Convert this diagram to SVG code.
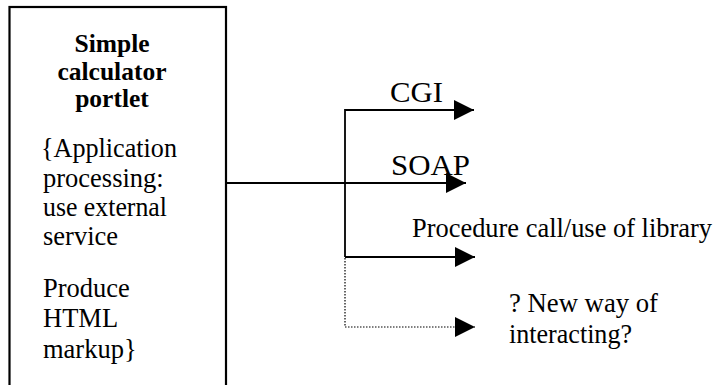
<svg xmlns="http://www.w3.org/2000/svg" width="717" height="385" viewBox="0 0 717 385">
<defs>
<style>
text{font-family:"Liberation Serif","Times New Roman",Times,"DejaVu Serif",serif;fill:#000}
.t{font-size:26.5px}
.b{font-size:25.5px;font-weight:bold}
.lbl{font-size:29px}
.ln{stroke:#000;stroke-width:1.8;fill:none}
.dot{stroke:#000;stroke-width:1.2;fill:none;stroke-dasharray:1.5 1.5}
</style>
<marker id="ah" markerUnits="userSpaceOnUse" markerWidth="22" markerHeight="22" refX="20" refY="10" orient="auto">
<path d="M0,0 L20,10 L0,20 Z" fill="#000"/>
</marker>
</defs>
<rect width="717" height="385" fill="#fff"/>
<g id="portlet">
<rect x="9.5" y="7" width="216.5" height="390" fill="#fff" stroke="#000" stroke-width="2.2"/>
<text class="b" x="112" y="52" text-anchor="middle">Simple</text>
<text class="b" x="112" y="80" text-anchor="middle">calculator</text>
<text class="b" x="112" y="107" text-anchor="middle">portlet</text>
<text class="t" x="41" y="157" textLength="136" lengthAdjust="spacingAndGlyphs">{Application</text>
<text class="t" x="43" y="187">processing:</text>
<text class="t" x="43" y="216" textLength="124" lengthAdjust="spacingAndGlyphs">use external</text>
<text class="t" x="43" y="245">service</text>
<text class="t" x="43" y="297">Produce</text>
<text class="t" x="43" y="327">HTML</text>
<text class="t" x="43" y="358">markup}</text>
</g>
<g id="connectors">
<line class="ln" x1="226" y1="183" x2="466" y2="183" marker-end="url(#ah)"/>
<polyline class="ln" points="345,257 345,110 474,110" marker-end="url(#ah)"/>
<line class="ln" x1="345" y1="257" x2="475" y2="257" marker-end="url(#ah)"/>
<polyline class="dot" points="345,258 345,327 475,327" marker-end="url(#ah)"/>
</g>
<g id="cgi"><text class="lbl" x="390" y="102" textLength="53" lengthAdjust="spacingAndGlyphs">CGI</text></g>
<g id="soap"><text class="lbl" x="391" y="175" textLength="79" lengthAdjust="spacingAndGlyphs">SOAP</text></g>
<g id="procedure"><text class="t" x="412" y="237" textLength="300" lengthAdjust="spacingAndGlyphs">Procedure call/use of library</text></g>
<g id="newway">
<text class="t" x="509" y="312" textLength="149" lengthAdjust="spacingAndGlyphs">? New way of</text>
<text class="t" x="509" y="343" textLength="123" lengthAdjust="spacingAndGlyphs">interacting?</text>
</g>
</svg>
